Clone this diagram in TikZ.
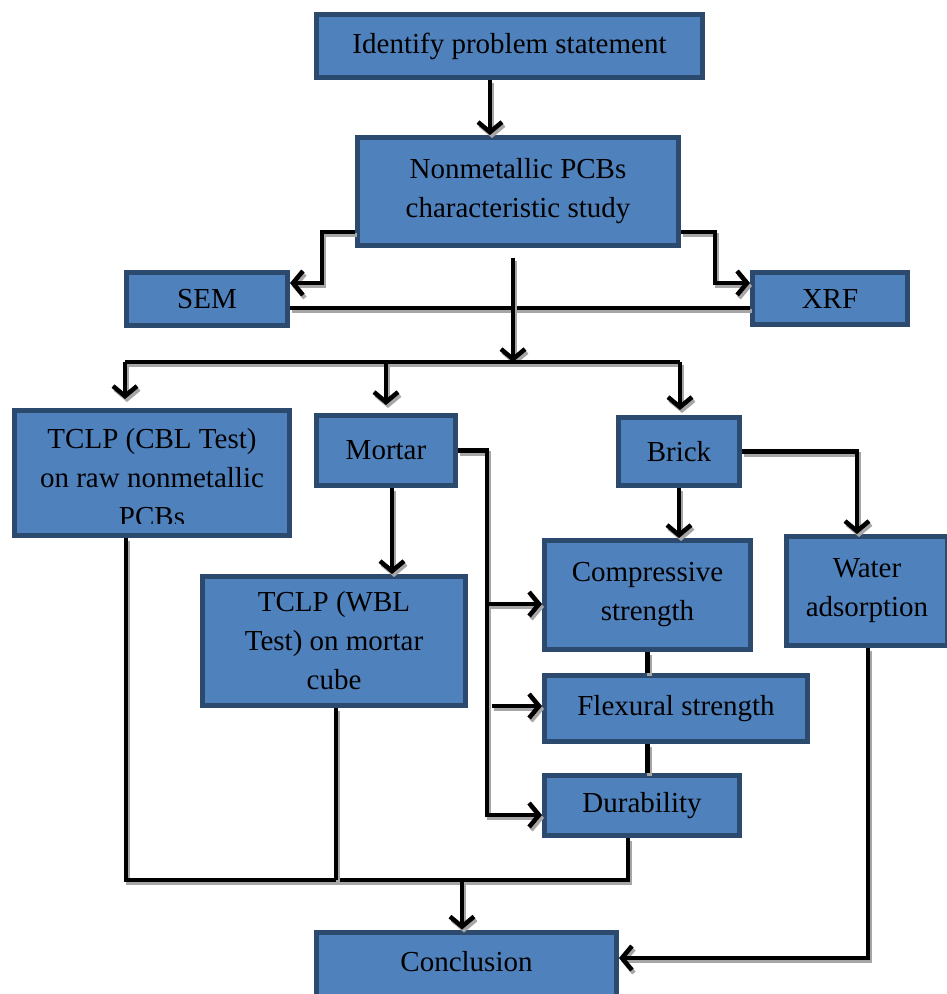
\documentclass[tikz,border=0pt]{standalone}
\usepackage{fontspec}
\setmainfont{Liberation Serif}
\usetikzlibrary{arrows.meta}
\definecolor{boxfill}{HTML}{4F81BD}
\definecolor{boxline}{HTML}{2C4A6E}
\begin{document}
\begin{tikzpicture}[x=1pt,y=-1pt,
 txt/.style={inner sep=0pt, align=center, font=\fontsize{29}{39}\selectfont},
 box/.style={txt, draw=boxline, fill=boxfill, line width=5pt},
 conn/.style={line width=4.5pt, black, preaction={draw=gray!70, line width=4.5pt, transform canvas={shift={(2pt,-3pt)}}}},
 arr/.style={conn, -{Straight Barb[length=10pt,width=24pt]}}]
\useasboundingbox (0,0) rectangle (947,994);

\node[box, minimum width=386pt, minimum height=63pt] (id) at (509.5,46) {Identify problem statement};
\node[box, minimum width=321pt, minimum height=108pt] (nm) at (518,191.5) {Nonmetallic PCBs\\characteristic study};
\node[box, minimum width=161pt, minimum height=53pt] (sem) at (207,299) {SEM};
\node[box, minimum width=155pt, minimum height=52pt] (xrf) at (830,298.5) {XRF};
\node[box, minimum width=275pt, minimum height=125pt] (tc) at (152,473) {};
\begin{scope}
\clip (15,410) rectangle (290,523);
\node[txt] (tct) at (152,478) {TCLP (CBL Test)\\on raw nonmetallic\\PCBs};
\end{scope}
\node[box, minimum width=139pt, minimum height=70pt] (mo) at (386,450.5) {Mortar};
\node[box, minimum width=121pt, minimum height=68pt] (bk) at (679,451.5) {Brick};
\node[box, minimum width=263pt, minimum height=129pt] (wbl) at (334,641) {TCLP (WBL\\Test) on mortar\\cube};
\node[box, minimum width=206pt, minimum height=109pt] (cs) at (647.5,595) {Compressive\\strength};
\node[box, minimum width=161pt, minimum height=109pt] (wa) at (867,591) {Water\\adsorption};
\node[box, minimum width=263pt, minimum height=66pt] (fl) at (676,708.5) {Flexural strength};
\node[box, minimum width=195pt, minimum height=60pt] (du) at (642,805.5) {Durability};
\node[box, minimum width=300pt, minimum height=70pt] (co) at (466.5,967) {};
\node[txt] (cot) at (466.5,962) {Conclusion};

\coordinate (a1) at (322,283);
\coordinate (a2) at (715,283);
\coordinate (b) at (500,308);
\coordinate (c0) at (513,258);
\coordinate (bar) at (513,362);
\coordinate (bl) at (125,362);
\coordinate (br) at (680,362);
\coordinate (m1) at (392,0);
\coordinate (d1) at (487,815);
\coordinate (c1) at (487,604);
\coordinate (f1) at (492,706);
\coordinate (w1) at (857,0);
\coordinate (q0) at (462,880);
\coordinate (q1) at (126,880);
\coordinate (q2) at (336,880);
\coordinate (q3) at (628,880);
\coordinate (w2) at (868,958);

\draw[arr] (id.south -| 490,0) -- (nm.north -| 490,0);
\draw[arr] ([yshift=-40.5pt]nm.west) -| (a1) -- (sem.east |- a1);
\draw[arr] ([yshift=-40.5pt]nm.east) -| (a2) -- (xrf.west |- a2);
\draw[conn] (sem.east |- b) -- (xrf.west |- b);
\draw[arr] (c0) -- (bar);
\draw[conn] (bl) -- (br);
\draw[arr, shorten >=9pt] (bl) -- (bl |- tc.north);
\draw[arr, shorten >=8pt] (mo.north |- bl) -- (mo.north);
\draw[arr, shorten >=5pt] (br) -- (br |- bk.north);
\draw[arr] (m1 |- mo.south) -- (m1 |- wbl.north);
\draw[arr] (mo.east) -| (d1) -- (du.west |- d1);
\draw[arr] (c1) -- (cs.west |- c1);
\draw[arr] (f1) -- (fl.west |- f1);
\draw[arr] (bk.south) -- (bk.south |- cs.north);
\draw[arr] (bk.east) -| (w1 |- wa.north);
\draw[conn] (cs.south) -- (cs.south |- fl.north);
\draw[conn] (fl.south -| cs.south) -- (du.north -| cs.south);
\draw[conn] (q1 |- tc.south) -- (q1) -- (q3) -- (q3 |- du.south);
\draw[conn] (q2 |- wbl.south) -- (q2);
\draw[arr] (q0) -- (q0 |- co.north);
\draw[arr] (w2 |- wa.south) -- (w2) -- (co.east |- w2);
\end{tikzpicture}
\end{document}
